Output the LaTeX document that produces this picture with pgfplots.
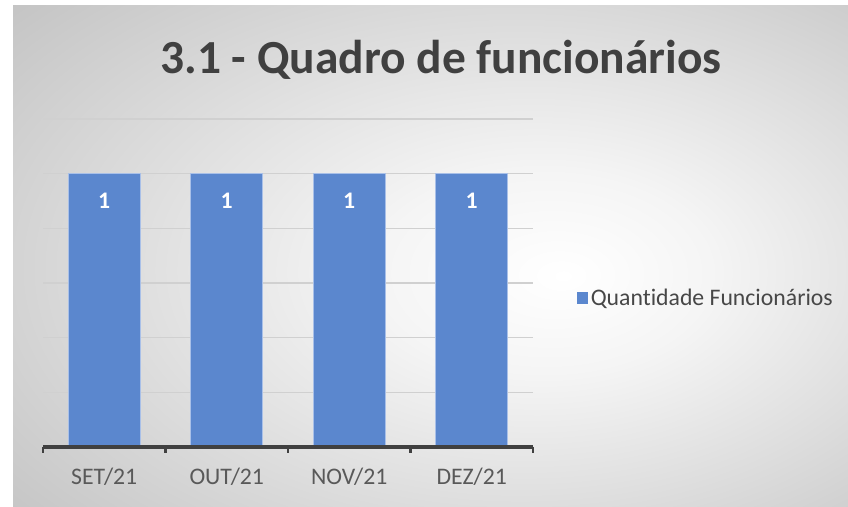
\documentclass[border=0pt]{standalone}
\usepackage{pgfplots}
\pgfplotsset{compat=1.18}
\usepackage{fontspec}
\setmainfont{Carlito}[Ligatures=NoCommon]
\definecolor{barblue}{HTML}{5B87CE}
\definecolor{baredge}{HTML}{A9C0E8}
\definecolor{gridc}{HTML}{D0D0D0}
\definecolor{axisc}{HTML}{404040}
\definecolor{txtc}{HTML}{595959}
\definecolor{titlec}{HTML}{404040}
\definecolor{bgouter}{HTML}{C2C2C2}
\pgfdeclareradialshading{bgshade}{\pgfpoint{8bp}{-2bp}}{color(0bp)=(white); color(10bp)=(white!96!black); color(40bp)=(bgouter); color(70bp)=(bgouter)}
\begin{document}
\begin{tikzpicture}[x=0.75pt,y=0.75pt]
\path (0,0) rectangle (848,506);
\fill[white] (0,0) rectangle (848,506);
\path[shading=bgshade] (13,0) rectangle (848,500);
\node[anchor=base, font=\fontsize{35.6}{40}\selectfont\bfseries, text=titlec, inner sep=0pt] at (441,432) {3.1 - Quadro de funcionários};
\begin{axis}[
  at={(32.25pt,44.25pt)}, anchor=south west,
  scale only axis, width=367.5pt, height=246pt,
  clip=false,
  /pgf/number format/assume math mode=true,
  ybar, bar width=54pt,
  xmin=-0.5, xmax=3.5, ymin=0, ymax=1.2,
  ytick={0,0.2,0.4,0.6,0.8,1.0,1.2}, yticklabels={},
  major y tick style={draw=none},
  ymajorgrids, grid style={gridc, line width=1.1pt},
  axis line style={draw=none},
  xtick={0,1,2,3},
  xticklabels={SET/21,OUT/21,NOV/21,DEZ/21},
  major x tick style={draw=none},
  xticklabel style={font=\fontsize{17.8}{20}\selectfont, text=txtc, anchor=center, yshift=-18pt},
  nodes near coords,
  every node near coord/.append style={font=\fontsize{17.8}{20}\selectfont\bfseries, text=white, anchor=center, yshift=-20.25pt},
  legend style={at={(axis description cs:1.089,0.454)}, anchor=west, draw=none, fill=none, font=\fontsize{17.8}{20}\selectfont, text=txtc!80!black, inner sep=0pt, nodes={inner sep=2pt}},
  legend image code/.code={\fill[barblue] (0pt,-3.9pt) rectangle (7.8pt,3.9pt);},
]
\addplot[fill=barblue, draw=baredge, line width=0.6pt] coordinates {(0,1) (1,1) (2,1) (3,1)};
\addlegendentry{Quantidade Funcionários}
\draw[axisc, line width=2.4pt, line cap=butt] (axis cs:-0.5,0) -- (axis cs:3.5,0);
\draw[axisc, line width=2.2pt] (axis cs:-0.5,0) -- ([yshift=-4.5pt]axis cs:-0.5,0);
\draw[axisc, line width=2.2pt] (axis cs:0.5,0) -- ([yshift=-4.5pt]axis cs:0.5,0);
\draw[axisc, line width=2.2pt] (axis cs:1.5,0) -- ([yshift=-4.5pt]axis cs:1.5,0);
\draw[axisc, line width=2.2pt] (axis cs:2.5,0) -- ([yshift=-4.5pt]axis cs:2.5,0);
\draw[axisc, line width=2.2pt] (axis cs:3.5,0) -- ([yshift=-4.5pt]axis cs:3.5,0);
\end{axis}
\end{tikzpicture}
\end{document}
